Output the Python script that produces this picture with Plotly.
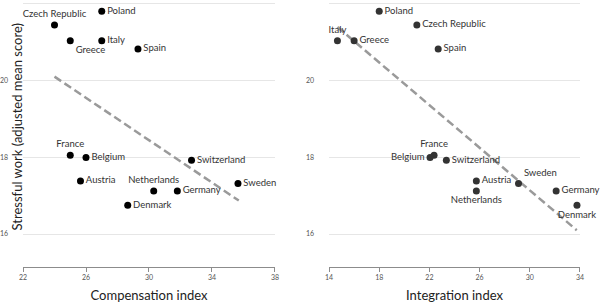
import plotly.graph_objects as go

# ---- data ----
countries_comp = ["Poland", "Czech Republic", "Greece", "Italy", "Spain", "France", "Belgium",
                  "Switzerland", "Austria", "Netherlands", "Germany", "Sweden", "Denmark"]
compensation = [27.0, 24.0, 25.0, 27.0, 29.3, 25.0, 26.0, 32.7, 25.65, 30.3, 31.8, 35.65, 28.65]
stress_comp = [21.79, 21.43, 21.02, 21.02, 20.81, 18.05, 17.99, 17.92, 17.38, 17.12, 17.12, 17.31, 16.75]
pos_comp = ["middle right", "top center", "bottom right", "middle right", "middle right", "top center",
            "middle right", "middle right", "middle right", "top center", "middle right",
            "middle right", "middle right"]

countries_int = ["Poland", "Czech Republic", "Italy", "Greece", "Spain", "France", "Belgium",
                 "Switzerland", "Austria", "Netherlands", "Sweden", "Germany", "Denmark"]
integration = [18.0, 21.0, 14.67, 16.0, 22.7, 22.37, 22.05, 23.35, 25.74, 25.74, 29.1, 32.1, 33.76]
stress_int = [21.79, 21.43, 21.02, 21.02, 20.81, 18.05, 17.99, 17.92, 17.38, 17.12, 17.31, 17.12, 16.75]
pos_int = ["middle right", "middle right", "top center", "middle right", "middle right", "top center",
           "middle left", "middle right", "middle right", "bottom center", "top right",
           "middle right", "bottom center"]

trend_comp_x = [24.0, 35.7]
trend_comp_y = [20.09, 16.87]
trend_int_x = [14.67, 33.74]
trend_int_y = [21.38, 16.10]

x_ticks_comp = [22, 26, 30, 34, 38]
x_ticks_int = [14, 18, 22, 26, 30, 34]
y_ticks = [16, 18, 20, 22]

FONT = "Lato, 'Open Sans', sans-serif"
TXT = "#333333"
LBL = 9.5

fig = go.Figure()

fig.add_trace(go.Scatter(x=trend_comp_x, y=trend_comp_y, mode="lines",
                         line=dict(color="#9a9a9a", width=2.5, dash="8px,4px"),
                         xaxis="x", yaxis="y", hoverinfo="skip", showlegend=False))
fig.add_trace(go.Scatter(x=compensation, y=stress_comp, mode="markers+text",
                         text=countries_comp, textposition=pos_comp,
                         textfont=dict(family=FONT, size=LBL, color=TXT),
                         marker=dict(color="black", size=7),
                         xaxis="x", yaxis="y", showlegend=False, cliponaxis=False))

fig.add_trace(go.Scatter(x=trend_int_x, y=trend_int_y, mode="lines",
                         line=dict(color="#9a9a9a", width=2.5, dash="8px,4px"),
                         xaxis="x2", yaxis="y2", hoverinfo="skip", showlegend=False))
fig.add_trace(go.Scatter(x=integration, y=stress_int, mode="markers+text",
                         text=countries_int, textposition=pos_int,
                         textfont=dict(family=FONT, size=LBL, color=TXT),
                         marker=dict(color="#333333", size=7),
                         xaxis="x2", yaxis="y2", showlegend=False, cliponaxis=False))

common_x = dict(showgrid=False, zeroline=False, showline=True, linecolor="#8c8c8c", linewidth=1,
                ticks="outside", ticklen=4, tickcolor="#8c8c8c",
                tickfont=dict(family=FONT, size=7, color="#555"),
                title_font=dict(family=FONT, size=13, color="#222"), title_standoff=10)
common_y = dict(range=[15.143, 22.03], tickvals=y_ticks, showgrid=True, gridcolor="#e6e6e6",
                gridwidth=1, zeroline=False, showline=False, ticks="",
                tickfont=dict(family=FONT, size=7, color="#555"), ticklabelstandoff=14)

L0, L1 = 0.0, 0.4524
R0, R1 = 0.5494, 1.0

fig.update_layout(
    width=600, height=304,
    margin=dict(l=23, r=20, t=2, b=37, autoexpand=False),
    paper_bgcolor="white", plot_bgcolor="white",
    font=dict(family=FONT, color=TXT),
    xaxis=dict(domain=[L0, L1], range=[22, 38], tickvals=x_ticks_comp,
               title_text="Compensation index", anchor="y", **common_x),
    yaxis=dict(domain=[0, 1], anchor="x", **common_y),
    xaxis2=dict(domain=[R0, R1], range=[14, 34], tickvals=x_ticks_int,
                title_text="Integration index", anchor="y2", **common_x),
    yaxis2=dict(domain=[0, 1], anchor="x2", **common_y),
    annotations=[dict(text="Stressful work (adjusted mean score)", textangle=-90,
                      xref="paper", yref="paper", x=-0.011, y=0.53, xanchor="center",
                      yanchor="middle", showarrow=False,
                      font=dict(family=FONT, size=13, color="#222"))],
)

fig.write_html("out.html", config={"displayModeBar": False},
               post_script="document.body.style.margin='0';document.body.style.padding='0';")
